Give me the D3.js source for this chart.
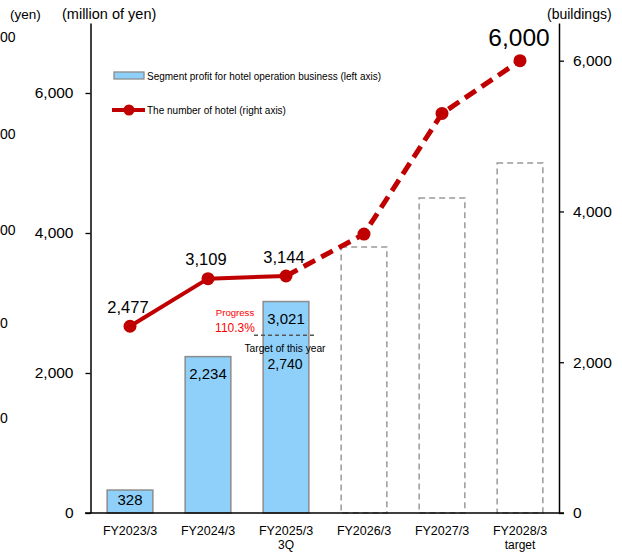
<!DOCTYPE html>
<html><head><meta charset="utf-8">
<script src="https://cdn.jsdelivr.net/npm/d3@7/dist/d3.min.js"></script>
<style>body{margin:0;background:#fff}svg{display:block}</style>
</head><body>
<svg id="c" width="622" height="553"></svg>
<script>
const categories = ["FY2023/3","FY2024/3","FY2025/3","FY2026/3","FY2027/3","FY2028/3"];
const subLabels = ["","","3Q","","","target"];
const profitActual = [328, 2234, 3021, null, null, null];
const profitTarget = [null, null, null, 3800, 4500, 5000];
const hotels = [2477, 3109, 3144, 3700, 5300, 6000];
const hotelLabels = ["2,477","3,109","3,144","","","6,000"];
const leftTicks = [0, 2000, 4000, 6000];
const rightTicks = [0, 2000, 4000, 6000];
const edgeLabels = ["00","00","00","0","0"];
const yearTarget = 2740;
const targetLineValue = 2540;

const svg = d3.select("#c");
const FONT = "'Liberation Sans', Arial, sans-serif";
const x = d3.scaleBand().domain(categories).range([91, 559]).paddingInner(0.414).paddingOuter(0.207);
const yL = d3.scaleLinear().domain([0, 7000]).range([513, 23]);
const yR = d3.scaleLinear().domain([0, 6500]).range([513, 23]);
const cx = c => x(c) + x.bandwidth()/2;

// edge fragments (from a neighbouring axis cut off by the frame)
svg.append("g").selectAll("text").data(edgeLabels).join("text")
  .attr("x", 0)
  .attr("y", (d,i) => [37,134,230,323,418][i])
  .attr("dy", "0.35em").attr("text-anchor","start")
  .style("font", `14px ${FONT}`).text(d => d);

// axis titles
svg.append("text").attr("x", 10).attr("y", 19).style("font", `13.5px ${FONT}`).text("(yen)");
svg.append("text").attr("x", 62).attr("y", 19).style("font", `14.5px ${FONT}`).text("(million of yen)");
svg.append("text").attr("x", 547).attr("y", 19).style("font", `14px ${FONT}`).text("(buildings)");

// bars actual
svg.append("g").selectAll("rect").data(categories.map((c,i)=>({c,v:profitActual[i]})).filter(d=>d.v!=null))
  .join("rect")
  .attr("x", d => x(d.c)).attr("width", x.bandwidth())
  .attr("y", d => yL(d.v)).attr("height", d => yL(0) - yL(d.v))
  .attr("fill", "#8fd0fb").attr("stroke", "#8c8c8c").attr("stroke-width", 1.5);

// bars target (dashed)
svg.append("g").selectAll("rect").data(categories.map((c,i)=>({c,v:profitTarget[i]})).filter(d=>d.v!=null))
  .join("rect")
  .attr("x", d => x(d.c)).attr("width", x.bandwidth())
  .attr("y", d => yL(d.v)).attr("height", d => yL(0) - yL(d.v))
  .attr("fill", "none").attr("stroke", "#999").attr("stroke-width", 1.5).attr("stroke-dasharray", "6,4");

// bar labels
svg.append("g").selectAll("text").data(categories.map((c,i)=>({c,v:profitActual[i]})).filter(d=>d.v!=null))
  .join("text")
  .attr("x", d => cx(d.c)).attr("y", d => d.v < 1000 ? yL(d.v) + 10 : yL(d.v) + 17)
  .attr("dy","0.35em").attr("text-anchor","middle")
  .style("font", `15px ${FONT}`).text(d => d3.format(",")(d.v));

// target annotation
const tc = cx(categories[2]);
svg.append("line").attr("x1", tc - 32).attr("x2", tc + 31)
  .attr("y1", yL(targetLineValue)).attr("y2", yL(targetLineValue))
  .attr("stroke", "#555").attr("stroke-width", 1.5).attr("stroke-dasharray", "4,3");
svg.append("text").attr("x", tc - 1).attr("y", yL(targetLineValue) + 13).attr("dy","0.35em")
  .attr("text-anchor","middle").style("font", `10.2px ${FONT}`).text("Target of this year");
svg.append("text").attr("x", tc - 1).attr("y", yL(targetLineValue) + 29).attr("dy","0.35em")
  .attr("text-anchor","middle").style("font", `14px ${FONT}`).text(d3.format(",")(yearTarget));
svg.append("text").attr("x", tc - 51).attr("y", 313).attr("dy","0.35em")
  .attr("text-anchor","middle").attr("fill","#ff0000").style("font", `9.6px ${FONT}`).text("Progress");
svg.append("text").attr("x", tc - 51).attr("y", 328).attr("dy","0.35em")
  .attr("text-anchor","middle").attr("fill","#ff0000").style("font", `12px ${FONT}`).text("110.3%");

// line
const pts = categories.map((c,i)=>[cx(c), yR(hotels[i])]);
const line = d3.line();
svg.append("path").attr("d", line(pts.slice(0,3))).attr("fill","none")
  .attr("stroke","#c00000").attr("stroke-width",4);
svg.append("path").attr("d", line(pts.slice(2))).attr("fill","none")
  .attr("stroke","#c00000").attr("stroke-width",5).attr("stroke-dasharray","13,7");
svg.append("g").selectAll("circle").data(pts).join("circle")
  .attr("cx", d=>d[0]).attr("cy", d=>d[1]).attr("r", 6.5).attr("fill","#c00000");

// line labels
svg.append("g").selectAll("text").data(categories.map((c,i)=>({c,v:hotels[i],l:hotelLabels[i]})).filter(d=>d.l))
  .join("text")
  .attr("x", d => d.v === 6000 ? cx(d.c) - 1 : cx(d.c) - 2)
  .attr("y", d => d.v === 6000 ? yR(d.v) - 23 : yR(d.v) - 19)
  .attr("dy","0.35em").attr("text-anchor","middle")
  .style("font", d => d.v === 6000 ? `24.5px ${FONT}` : `16.5px ${FONT}`).text(d => d.l);

// axes
const gL = svg.append("g").attr("transform","translate(90.5,0)")
  .call(d3.axisLeft(yL).tickValues(leftTicks).tickSize(5).tickSizeOuter(0).tickFormat(d3.format(",")));
const gR = svg.append("g").attr("transform","translate(559,0)")
  .call(d3.axisRight(yR).tickValues(rightTicks).tickSize(5).tickSizeOuter(0).tickFormat(d3.format(",")));
[gL, gR].forEach(g => {
  g.select(".domain").attr("stroke","#000").attr("stroke-width",1.5);
  g.selectAll(".tick line").attr("stroke","#000").attr("stroke-width",1.3);
  g.selectAll(".tick text").style("font", `15.5px ${FONT}`).attr("fill","#000");
});
gL.selectAll(".tick text").attr("x", -17);
gR.selectAll(".tick text").attr("x", 14);

const gB = svg.append("g").attr("transform","translate(0,513)")
  .call(d3.axisBottom(x).tickSize(0).tickSizeOuter(0));
gB.select(".domain").remove();
gB.selectAll(".tick text").style("font", `12.5px ${FONT}`).attr("fill","#000").attr("y", 13.5).attr("dy","0.71em");
gB.selectAll(".tick").append("text").attr("y", 27.5).attr("dy","0.71em").attr("fill","#000")
  .attr("text-anchor","middle").style("font", `12px ${FONT}`)
  .text((d,i) => subLabels[i]);
svg.append("line").attr("x1", 85).attr("x2", 564).attr("y1", 513).attr("y2", 513)
  .attr("stroke","#000").attr("stroke-width",1.5);

// legend
svg.append("rect").attr("x",114).attr("y",72).attr("width",30).attr("height",7)
  .attr("fill","#8fd0fb").attr("stroke","#8c8c8c").attr("stroke-width",1.3);
svg.append("text").attr("x",147).attr("y",76).attr("dy","0.35em").style("font", `10px ${FONT}`)
  .text("Segment profit for hotel operation business (left axis)");
svg.append("line").attr("x1",112).attr("x2",145).attr("y1",110).attr("y2",110)
  .attr("stroke","#c00000").attr("stroke-width",4);
svg.append("circle").attr("cx",129).attr("cy",110).attr("r",5.5).attr("fill","#c00000");
svg.append("text").attr("x",147).attr("y",110).attr("dy","0.35em").style("font", `10px ${FONT}`)
  .text("The number of hotel (right axis)");
</script>
</body></html>
